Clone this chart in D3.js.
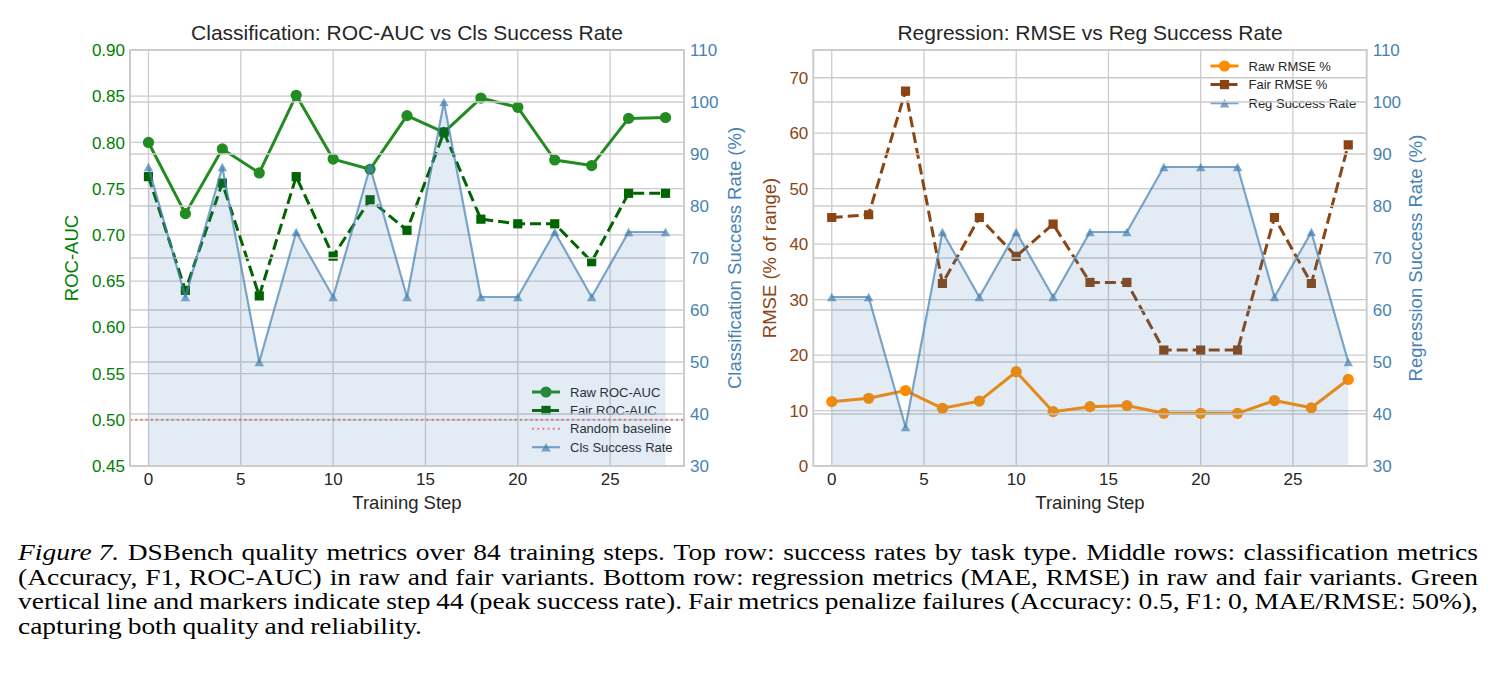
<!DOCTYPE html>
<html>
<head>
<meta charset="utf-8">
<script src="https://cdn.jsdelivr.net/npm/d3@7"></script>
<style>
  html, body { margin: 0; padding: 0; background: #ffffff; }
  svg { display: block; }
  .cap { font-family: "Liberation Serif", "Times New Roman", Times, "Nimbus Roman", serif; }
</style>
</head>
<body>
<svg id="chart" width="1494" height="679"></svg>
<script>
// ---------------- DATA ----------------
const steps = [0, 2, 4, 6, 8, 10, 12, 14, 16, 18, 20, 22, 24, 26, 28];
const rawRocAuc  = [0.800, 0.723, 0.793, 0.767, 0.851, 0.782, 0.771, 0.829, 0.811, 0.848, 0.838, 0.781, 0.775, 0.826, 0.827];
const fairRocAuc = [0.763, 0.640, 0.756, 0.634, 0.763, 0.677, 0.738, 0.705, 0.811, 0.717, 0.712, 0.712, 0.671, 0.745, 0.745];
const clsSuccessRate = [87.5, 62.5, 87.5, 50, 75, 62.5, 87.5, 62.5, 100, 62.5, 62.5, 75, 62.5, 75, 75];
const rawRmse  = [11.6, 12.2, 13.6, 10.4, 11.7, 17.0, 9.8, 10.7, 10.9, 9.5, 9.5, 9.5, 11.8, 10.5, 15.6];
const fairRmse = [44.8, 45.3, 67.6, 32.9, 44.8, 37.8, 43.6, 33.1, 33.1, 20.9, 20.9, 20.9, 44.8, 32.9, 57.9];
const regSuccessRate = [62.5, 62.5, 37.5, 75, 62.5, 75, 62.5, 75, 75, 87.5, 87.5, 87.5, 62.5, 75, 50];
const randomBaseline = 0.5;

const xTicks = [0, 5, 10, 15, 20, 25];
const rocTicks = [0.45, 0.50, 0.55, 0.60, 0.65, 0.70, 0.75, 0.80, 0.85, 0.90];
const rateTicks = [30, 40, 50, 60, 70, 80, 90, 100, 110];
const rmseTicks = [0, 10, 20, 30, 40, 50, 60, 70];

const titles = ["Classification: ROC-AUC vs Cls Success Rate", "Regression: RMSE vs Reg Success Rate"];
const captionLines = [
  ["Figure 7.", "DSBench quality metrics over 84 training steps.  Top row:  success rates by task type.  Middle rows:  classification metrics"],
  ["", "(Accuracy, F1, ROC-AUC) in raw and fair variants.  Bottom row:  regression metrics (MAE, RMSE) in raw and fair variants.  Green"],
  ["", "vertical line and markers indicate step 44 (peak success rate).  Fair metrics penalize failures (Accuracy: 0.5, F1: 0, MAE/RMSE: 50%),"],
  ["", "capturing both quality and reliability."]
];

// ---------------- STYLE ----------------
const FONT = "'Liberation Sans', Arial, Helvetica, sans-serif";
const TXT = "#262626";
const GRID = "#cccccc";
const GREEN_TXT = "#008000";
const STEEL = "#4682B4";
const BROWN = "#8B4513";

const svg = d3.select("#chart");

function trianglePath(w, h) {
  return `M0,${-h/2}L${w/2},${h/2}L${-w/2},${h/2}Z`;
}
function markerPath(type) {
  if (type === "circle") return d3.symbol(d3.symbolCircle, Math.PI * 5.6 * 5.6)();
  if (type === "square") return "M-4.6,-4.6H4.6V4.6H-4.6Z";
  if (type === "triangle") return trianglePath(9.5, 8.5);
  return null;
}

function drawPanel(cfg) {
  const { x0, x1, y0, y1 } = cfg;
  const g = svg.append("g");
  const clipId = "clip" + cfg.id;
  svg.append("defs").append("clipPath").attr("id", clipId)
    .append("rect").attr("x", x0).attr("y", y0).attr("width", x1 - x0).attr("height", y1 - y0);

  const x = d3.scaleLinear().domain([-1, 29]).range([x0, x1]);
  const yL = d3.scaleLinear().domain(cfg.yLDomain).range([y1, y0]);
  const yR = d3.scaleLinear().domain([30, 110]).range([y1, y0]);

  // ax1 grid
  const grid1 = g.append("g");
  grid1.selectAll("line.h").data(cfg.yLTicks).join("line")
    .attr("x1", x0).attr("x2", x1).attr("y1", d => yL(d)).attr("y2", d => yL(d))
    .attr("stroke", GRID).attr("stroke-width", 1.3);
  grid1.selectAll("line.v").data(xTicks).join("line")
    .attr("x1", d => x(d)).attr("x2", d => x(d)).attr("y1", y0).attr("y2", y1)
    .attr("stroke", GRID).attr("stroke-width", 1.3);

  const ax1 = g.append("g").attr("clip-path", `url(#${clipId})`);
  if (cfg.baseline !== undefined) {
    ax1.append("line").attr("x1", x0).attr("x2", x1)
      .attr("y1", yL(cfg.baseline)).attr("y2", yL(cfg.baseline))
      .attr("stroke", "#ff0000").attr("stroke-opacity", 0.5)
      .attr("stroke-width", 2).attr("stroke-dasharray", "2,3.2");
  }
  cfg.series.forEach(s => {
    const line = d3.line().x((d, i) => x(steps[i])).y(d => yL(d));
    ax1.append("path").datum(s.values).attr("d", line)
      .attr("fill", "none").attr("stroke", s.color).attr("stroke-width", 3)
      .attr("stroke-dasharray", s.dash ? "11,5" : null)
      .attr("stroke-linejoin", "round");
    ax1.selectAll(null).data(s.values).join("path")
      .attr("transform", (d, i) => `translate(${x(steps[i])},${yL(d)})`)
      .attr("d", markerPath(s.marker)).attr("fill", s.color);
  });

  // legend (belongs to ax1)
  const lg = g.append("g");
  cfg.legend.items.forEach((it, i) => {
    const ly = cfg.legend.y + i * cfg.legend.dy;
    const hx0 = cfg.legend.x, hx1 = cfg.legend.x + 28, hm = (hx0 + hx1) / 2;
    const ln = lg.append("line").attr("x1", hx0).attr("x2", hx1).attr("y1", ly).attr("y2", ly)
      .attr("stroke", it.color).attr("stroke-width", it.width || 3)
      .attr("stroke-opacity", it.opacity || 1);
    if (it.dash) ln.attr("stroke-dasharray", it.dash);
    if (it.marker) {
      lg.append("path").attr("transform", `translate(${hm},${ly})`)
        .attr("d", markerPath(it.marker)).attr("fill", it.color)
        .attr("fill-opacity", it.opacity || 1);
    }
    lg.append("text").attr("x", hx0 + 38).attr("y", ly).attr("dy", "0.36em")
      .attr("font-family", FONT).attr("font-size", 13).attr("fill", TXT).text(it.label);
  });

  // ax2 grid (drawn above ax1)
  g.append("g").selectAll("line").data(rateTicks).join("line")
    .attr("x1", x0).attr("x2", x1).attr("y1", d => yR(d)).attr("y2", d => yR(d))
    .attr("stroke", GRID).attr("stroke-width", 1.3);

  const ax2 = g.append("g").attr("clip-path", `url(#${clipId})`);
  const area = d3.area().x((d, i) => x(steps[i])).y0(y1 + 5).y1(d => yR(d));
  ax2.append("path").datum(cfg.rate).attr("d", area)
    .attr("fill", STEEL).attr("fill-opacity", 0.15);
  const rline = d3.line().x((d, i) => x(steps[i])).y(d => yR(d));
  ax2.append("path").datum(cfg.rate).attr("d", rline)
    .attr("fill", "none").attr("stroke", STEEL).attr("stroke-opacity", 0.7)
    .attr("stroke-width", 2.2).attr("stroke-linejoin", "round");
  ax2.selectAll(null).data(cfg.rate).join("path")
    .attr("transform", (d, i) => `translate(${x(steps[i])},${yR(d)})`)
    .attr("d", markerPath("triangle")).attr("fill", STEEL).attr("fill-opacity", 0.7);

  // spines
  g.append("rect").attr("x", x0).attr("y", y0).attr("width", x1 - x0).attr("height", y1 - y0)
    .attr("fill", "none").attr("stroke", GRID).attr("stroke-width", 2);

  // tick labels
  g.append("g").selectAll("text").data(xTicks).join("text")
    .attr("x", d => x(d)).attr("y", y1 + 7).attr("dy", "0.71em").attr("text-anchor", "middle")
    .attr("font-family", FONT).attr("font-size", 17).attr("fill", TXT).text(d => d);
  g.append("g").selectAll("text").data(cfg.yLTicks).join("text")
    .attr("x", x0 - 5).attr("y", d => yL(d)).attr("dy", "0.36em").attr("text-anchor", "end")
    .attr("font-family", FONT).attr("font-size", 17).attr("fill", cfg.leftColor).text(cfg.yLFormat);
  g.append("g").selectAll("text").data(rateTicks).join("text")
    .attr("x", x1 + 6).attr("y", d => yR(d)).attr("dy", "0.36em").attr("text-anchor", "start")
    .attr("font-family", FONT).attr("font-size", 17).attr("fill", STEEL).text(d => d);

  // axis labels & title
  const cx = (x0 + x1) / 2, cy = (y0 + y1) / 2;
  g.append("text").attr("x", cx).attr("y", 509).attr("text-anchor", "middle")
    .attr("font-family", FONT).attr("font-size", 18.5).attr("fill", TXT).text("Training Step");
  g.append("text").attr("transform", `translate(${cfg.yLLabelX},${cy}) rotate(-90)`)
    .attr("text-anchor", "middle").attr("dy", "0.35em")
    .attr("font-family", FONT).attr("font-size", 18.5).attr("fill", cfg.leftColor).text(cfg.yLLabel);
  g.append("text").attr("transform", `translate(${cfg.yRLabelX},${cy}) rotate(-90)`)
    .attr("text-anchor", "middle").attr("dy", "0.35em")
    .attr("font-family", FONT).attr("font-size", 18.5).attr("fill", STEEL).text(cfg.yRLabel);
  g.append("text").attr("x", cx).attr("y", 40).attr("text-anchor", "middle")
    .attr("font-family", FONT).attr("font-size", 21).attr("fill", TXT).text(cfg.title);
}

drawPanel({
  id: "L", x0: 130, x1: 684, y0: 50, y1: 466,
  yLDomain: [0.45, 0.90], yLTicks: rocTicks, yLFormat: d3.format(".2f"),
  leftColor: GREEN_TXT, yLLabel: "ROC-AUC", yLLabelX: 72,
  yRLabel: "Classification Success Rate (%)", yRLabelX: 735,
  title: titles[0], baseline: randomBaseline,
  series: [
    { values: rawRocAuc, color: "#228B22", marker: "circle", dash: false },
    { values: fairRocAuc, color: "#006400", marker: "square", dash: true }
  ],
  rate: clsSuccessRate,
  legend: { x: 532, y: 392, dy: 18.4, items: [
    { label: "Raw ROC-AUC", color: "#228B22", marker: "circle" },
    { label: "Fair ROC-AUC", color: "#006400", marker: "square", dash: "11,5" },
    { label: "Random baseline", color: "#ff0000", opacity: 0.5, width: 2, dash: "2,3.2" },
    { label: "Cls Success Rate", color: STEEL, opacity: 0.7, width: 2.2, marker: "triangle" }
  ]}
});

drawPanel({
  id: "R", x0: 813.3, x1: 1366.7, y0: 50, y1: 466,
  yLDomain: [0, 75], yLTicks: rmseTicks, yLFormat: d => d,
  leftColor: BROWN, yLLabel: "RMSE (% of range)", yLLabelX: 770,
  yRLabel: "Regression Success Rate (%)", yRLabelX: 1416,
  title: titles[1],
  series: [
    { values: rawRmse, color: "#FF8C00", marker: "circle", dash: false },
    { values: fairRmse, color: BROWN, marker: "square", dash: true }
  ],
  rate: regSuccessRate,
  legend: { x: 1210.5, y: 66, dy: 18.6, items: [
    { label: "Raw RMSE %", color: "#FF8C00", marker: "circle" },
    { label: "Fair RMSE %", color: BROWN, marker: "square", dash: "11,5" },
    { label: "Reg Success Rate", color: STEEL, opacity: 0.7, width: 2.2, marker: "triangle" }
  ]}
});

// ---------------- CAPTION (justified) ----------------
const capX0 = 18, capX1 = 1478, capY0 = 560, capDy = 24.6;
function buildTokens(ln) {
  const tokens = [];
  if (ln[0]) tokens.push({ t: ln[0], italic: true });
  ln[1].split(/\s+/).forEach(w => tokens.push({ t: w, italic: false }));
  return tokens;
}
const capSize = 23.5;
const probe = svg.append("g");
function wordsWidth(tokens, size) {
  let w = 0;
  tokens.forEach(tk => {
    const t = probe.append("text").attr("class", "cap").style("font-size", size + "px")
      .style("font-style", tk.italic ? "italic" : "normal").text(tk.t);
    w += t.node().getComputedTextLength();
  });
  return w;
}
// horizontal scale: the tightest justified line keeps about normal word spaces
const targetSpace = capSize * 0.25;
const sx = d3.min(captionLines.slice(0, 3), ln => {
  const tk = buildTokens(ln);
  return (capX1 - capX0 - (tk.length - 1) * targetSpace) / wordsWidth(tk, capSize);
});
probe.remove();

captionLines.forEach((ln, li) => {
  const y = capY0 + li * capDy;
  const justify = li < captionLines.length - 1;
  const tokens = buildTokens(ln);
  const gLine = svg.append("g");
  const nodes = tokens.map(tk => {
    const t = gLine.append("text").attr("class", "cap")
      .style("font-size", capSize + "px").attr("fill", "#000")
      .style("font-style", tk.italic ? "italic" : "normal").text(tk.t);
    return { node: t, w: t.node().getComputedTextLength() * sx };
  });
  const total = d3.sum(nodes, n => n.w);
  const gap = justify ? (capX1 - capX0 - total) / (nodes.length - 1) : targetSpace;
  let cx = capX0;
  nodes.forEach(n => {
    n.node.attr("transform", `translate(${cx},${y}) scale(${sx},1)`);
    cx += n.w + gap;
  });
});
</script>
</body>
</html>
